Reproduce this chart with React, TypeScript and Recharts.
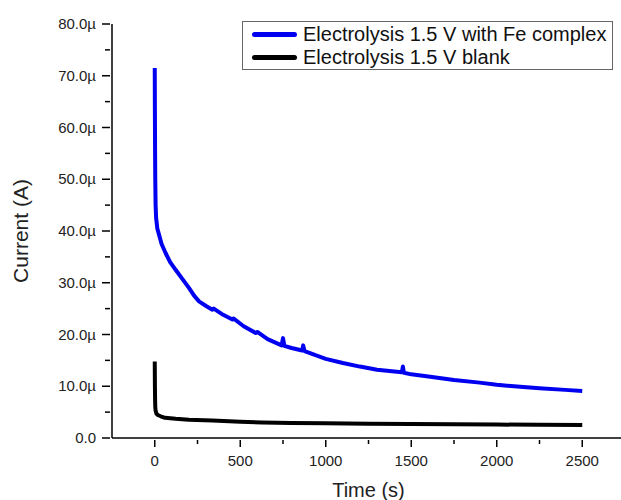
import { LineChart, Line, XAxis, YAxis, Label } from "recharts"

// time (s) vs current (µA)
const feTime = [0, 1, 2, 3, 5, 8, 15, 25, 40, 64, 90, 122, 160, 200, 230, 259, 300, 337, 345, 400, 454, 460, 520, 590, 600, 660, 742, 750, 758, 800, 862, 868, 876, 940, 1000, 1100, 1200, 1300, 1445, 1451, 1457, 1500, 1600, 1750, 1900, 2000, 2100, 2250, 2400, 2500]
const feCurrent = [71.5, 62, 55, 50, 45, 42.5, 40.5, 39.3, 37.5, 35.7, 34, 32.5, 30.8, 29.0, 27.5, 26.4, 25.5, 24.8, 25.0, 23.8, 22.9, 23.1, 21.6, 20.3, 20.5, 19.1, 17.9, 19.3, 17.8, 17.4, 16.9, 17.9, 16.8, 16.0, 15.3, 14.5, 13.8, 13.2, 12.7, 13.8, 12.6, 12.3, 11.9, 11.2, 10.7, 10.3, 10.0, 9.6, 9.3, 9.1]

const blankTime = [0, 1, 2, 3, 5, 10, 20, 35, 60, 122, 200, 337, 500, 629, 800, 1000, 1250, 1500, 1750, 2000, 2250, 2500]
const blankCurrent = [14.8, 10, 7.5, 6, 5.3, 4.7, 4.4, 4.2, 3.9, 3.7, 3.55, 3.4, 3.15, 3.0, 2.9, 2.85, 2.75, 2.7, 2.65, 2.6, 2.55, 2.5]

const xTicks = [0, 250, 500, 750, 1000, 1250, 1500, 1750, 2000, 2250, 2500]
const yTicks = [0, 5, 10, 15, 20, 25, 30, 35, 40, 45, 50, 55, 60, 65, 70, 75, 80]

const seriesNames = ["Electrolysis 1.5 V with Fe complex", "Electrolysis 1.5 V blank"]
const seriesColors = ["#0000f0", "#000000"]

const feData = feTime.map((t, i) => ({ t, fe: feCurrent[i] }))
const blankData = blankTime.map((t, i) => ({ t, blank: blankCurrent[i] }))

const font = "'Liberation Sans', Arial, sans-serif"

const XTick = ({ x, y, payload }: any) => {
  const major = payload.value % 500 === 0
  return (
    <g>
      <line x1={x} x2={x} y1={y} y2={y + (major ? 7 : 4)} stroke="#000" strokeWidth={1.5} />
      {major && (
        <text x={x} y={y + 26} textAnchor="middle" fontSize={15} fill="#222" fontFamily={font}>
          {payload.value}
        </text>
      )}
    </g>
  )
}

const YTick = ({ x, y, payload }: any) => {
  const major = payload.value % 10 === 0
  return (
    <g>
      <line x1={x} x2={x - (major ? 8 : 5)} y1={y} y2={y} stroke="#000" strokeWidth={1.5} />
      {major && (
        <text x={x - 14} y={y + 5} textAnchor="end" fontSize={15} fill="#222" fontFamily={font}>
          {payload.value === 0 ? "0.0" : payload.value.toFixed(1) + "µ"}
        </text>
      )}
    </g>
  )
}

function LegendBox() {
  return (
    <div
      style={{
        position: "absolute",
        left: 242,
        top: 21,
        width: 369,
        height: 47,
        border: "1px solid #666",
        background: "#fff",
        fontFamily: font,
        fontSize: 20,
        color: "#111",
        whiteSpace: "nowrap",
      }}
    >
      {seriesNames.map((name, i) => (
        <div key={name} style={{ display: "flex", alignItems: "center", height: 23, marginTop: i === 0 ? 1 : 0 }}>
          <div style={{ width: 45, height: 5, background: seriesColors[i], marginLeft: 9, marginRight: 6, borderRadius: 2.5 }} />
          <span>{name}</span>
        </div>
      ))}
    </div>
  )
}

export default function App() {
  return (
    <div style={{ position: "absolute", left: 0, top: 0, width: 621, height: 500, overflow: "hidden", background: "#fff" }}>
      <LineChart width={630} height={500} margin={{ top: 24, right: 5, left: 0, bottom: 0 }}>
        <XAxis
          type="number"
          dataKey="t"
          domain={[-250, 2750]}
          ticks={xTicks}
          allowDuplicatedCategory={false}
          tickLine={false}
          tickSize={0}
          tick={<XTick />}
          height={62}
          stroke="#000"
          strokeWidth={1.5}
          interval={0}
        >
          <Label value="Time (s)" position="insideBottom" offset={3} fontSize={20} fill="#222" fontFamily={font} />
        </XAxis>
        <YAxis
          type="number"
          domain={[0, 80]}
          ticks={yTicks}
          tickLine={false}
          tickSize={0}
          tick={<YTick />}
          width={112}
          stroke="#000"
          strokeWidth={1.5}
          interval={0}
        >
          <Label value="Current (A)" angle={-90} position="insideLeft" offset={21} fontSize={21} fill="#222" fontFamily={font} style={{ textAnchor: "middle" }} />
        </YAxis>
        <Line data={feData} dataKey="fe" stroke={seriesColors[0]} strokeWidth={4} strokeLinejoin="round" dot={false} type="linear" isAnimationActive={false} />
        <Line data={blankData} dataKey="blank" stroke={seriesColors[1]} strokeWidth={4} strokeLinejoin="round" dot={false} type="linear" isAnimationActive={false} />
      </LineChart>
      <LegendBox />
    </div>
  )
}
